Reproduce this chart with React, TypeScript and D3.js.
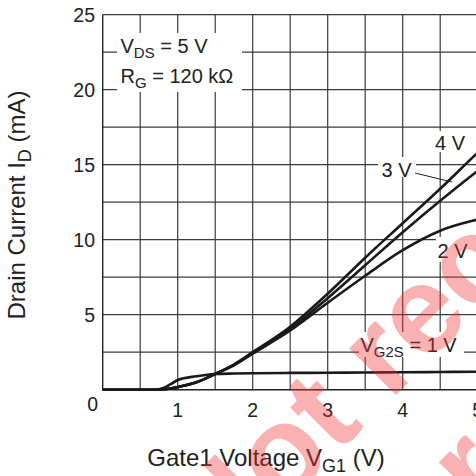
import React from "react";
import * as d3 from "d3";

const vg1 = [0, 0.5, 0.7, 0.8, 0.9, 1.0, 1.25, 1.5, 1.75, 2.0, 2.5, 3.0, 3.5, 4.0, 4.5, 5.0, 5.5];
const id4V = [0, 0, 0, 0.02, 0.08, 0.18, 0.5, 1.05, 1.68, 2.5, 4.2, 6.4, 8.8, 11.1, 13.4, 15.8, 18.1];
const id3V = [0, 0, 0, 0.02, 0.08, 0.18, 0.5, 1.05, 1.66, 2.45, 4.05, 6.1, 8.3, 10.5, 12.6, 14.6, 16.5];
const id2V = [0, 0, 0, 0.02, 0.08, 0.18, 0.5, 1.05, 1.62, 2.4, 3.95, 5.8, 7.6, 9.3, 10.6, 11.35, 11.9];
const id1V = [0, 0, 0, 0.1, 0.35, 0.65, 0.9, 1.05, 1.08, 1.1, 1.12, 1.13, 1.15, 1.16, 1.18, 1.2, 1.21];
const seriesList = [id4V, id3V, id2V, id1V];
const xTicks = [1, 2, 3, 4, 5];
const yTicks = [5, 10, 15, 20, 25];

const W = 476;
const H = 476;
const FONT = "'Liberation Sans', Arial, Helvetica, sans-serif";

export default function App() {
  const x = d3.scaleLinear().domain([0, 6]).range([102.7, 552.7]);
  const y = d3.scaleLinear().domain([0, 25]).range([389.7, 14.7]);
  const xGrid = d3.range(0.5, 6.01, 0.5);
  const yGrid = d3.range(2.5, 25.01, 2.5);
  const line = d3
    .line<number>()
    .x((_, i) => x(vg1[i]))
    .y((d) => y(d))
    .curve(d3.curveMonotoneX);
  const gridColor = "#3a3a3a";
  return (
    <svg
      width={W}
      height={H}
      style={{ position: "absolute", left: 0, top: 0, background: "#fff" }}
      fontFamily={FONT}
    >
      <defs>
        <clipPath id="plot">
          <rect x={0} y={0} width={W} height={H} />
        </clipPath>
      </defs>
      <g clipPath="url(#plot)">
        {xGrid.map((v) => (
          <line key={"gx" + v} x1={x(v)} x2={x(v)} y1={y(0)} y2={y(25)} stroke={gridColor} strokeWidth={1.2} />
        ))}
        {yGrid.map((v) => (
          <line key={"gy" + v} x1={x(0)} x2={x(6)} y1={y(v)} y2={y(v)} stroke={gridColor} strokeWidth={1.2} />
        ))}
        <line x1={x(0)} x2={x(0)} y1={y(0)} y2={y(25)} stroke="#222" strokeWidth={1.4} />
        <line x1={x(0)} x2={x(6)} y1={y(0)} y2={y(0)} stroke="#222" strokeWidth={1.6} />

        {/* label backgrounds */}
        <rect x={117} y={33} width={125} height={59} fill="#fff" />
        <rect x={432} y={131} width={50} height={21} fill="#fff" />
        <rect x={378} y={157} width={38} height={20} fill="#fff" />
        <rect x={436} y={237} width={45} height={25} fill="#fff" />
        <rect x={359} y={332} width={105} height={25} fill="#fff" />

        {seriesList.map((s, i) => (
          <path key={"s" + i} d={line(s) || ""} fill="none" stroke="#1a1a1a" strokeWidth={2.6} />
        ))}

        <line x1={415} y1={173} x2={452} y2={182} stroke="#222" strokeWidth={1} />

        {/* curve labels */}
        <g fontSize={20} fill="#222">
          <text x={435} y={150}>4 V</text>
          <text x={381.5} y={176.5}>3 V</text>
          <text x={437.5} y={258}>2 V</text>
          <text x={360.5} y={352}>
            V<tspan fontSize={15} dy={5}>G2S</tspan>
            <tspan dy={-5}> = 1 V</tspan>
          </text>
          <text x={120.5} y={52.5}>
            V<tspan fontSize={15} dy={5}>DS</tspan>
            <tspan dy={-5}> = 5 V</tspan>
          </text>
          <text x={120.5} y={82.5}>
            R<tspan fontSize={15} dy={5}>G</tspan>
            <tspan dy={-5}> = 120 kΩ</tspan>
          </text>
        </g>

        {/* tick labels */}
        <g fontSize={19.5} fill="#222">
          {yTicks.map((t) => (
            <text key={"yt" + t} x={95} y={y(t) + 7} textAnchor="end">
              {t}
            </text>
          ))}
          <text x={98} y={411} textAnchor="end">0</text>
          {xTicks.map((t) => (
            <text key={"xt" + t} x={x(t)} y={416.5} textAnchor="middle">
              {t}
            </text>
          ))}
        </g>

        {/* axis titles */}
        <text x={266} y={466} fontSize={24} fill="#222" textAnchor="middle">
          Gate1 Voltage V<tspan fontSize={18} dy={6}>G1</tspan>
          <tspan dy={-6}> (V)</tspan>
        </text>
        <text
          transform="translate(25,205) rotate(-90)"
          fontSize={24}
          fill="#222"
          textAnchor="middle"
        >
          Drain Current I<tspan fontSize={18} dy={6}>D</tspan>
          <tspan dy={-6}> (mA)</tspan>
        </text>

        {/* watermark */}
        <g
          transform="translate(218,573) rotate(-45)"
          fontSize={125}
          fontWeight="bold"
          fill="rgb(240,50,50)"
          fillOpacity={0.38}
        >
          <text x={0} y={0}>Not recommended</text>
          <text x={549} y={144} textAnchor="middle">for new design</text>
        </g>
      </g>
    </svg>
  );
}
